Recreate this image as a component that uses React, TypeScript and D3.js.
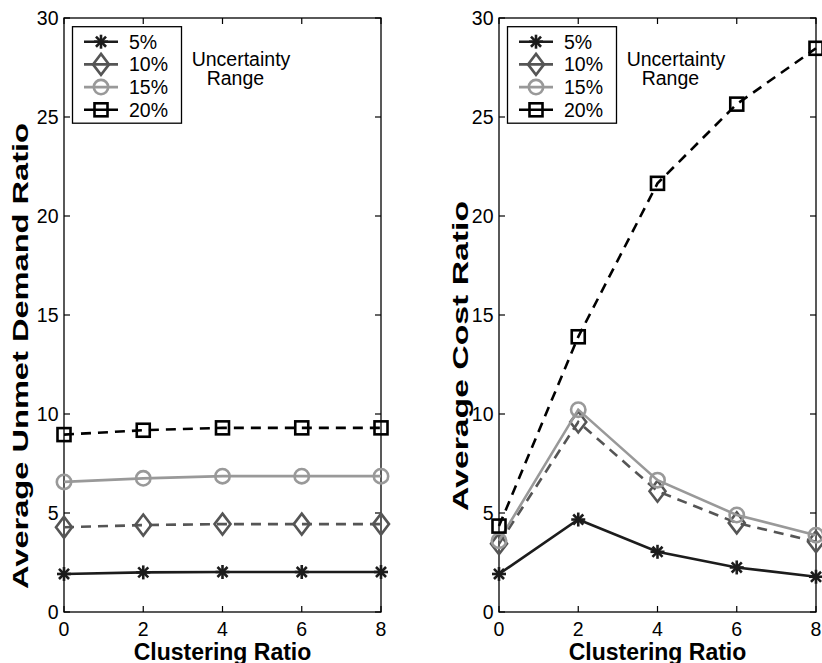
import React from 'react';
import * as d3 from 'd3';

// x values shared by every series
const clustering = [0, 2, 4, 6, 8];
const seriesLabels = ['5%', '10%', '15%', '20%'];

// left panel: average unmet demand ratio
const unmet5 = [1.92, 2.0, 2.02, 2.02, 2.02];
const unmet10 = [4.28, 4.39, 4.44, 4.44, 4.44];
const unmet15 = [6.57, 6.75, 6.86, 6.86, 6.86];
const unmet20 = [8.96, 9.18, 9.3, 9.3, 9.3];

// right panel: average cost ratio
const cost5 = [1.92, 4.67, 3.04, 2.25, 1.78];
const cost10 = [3.45, 9.6, 6.1, 4.5, 3.55];
const cost15 = [3.6, 10.22, 6.66, 4.9, 3.88];
const cost20 = [4.34, 13.9, 21.65, 25.65, 28.47];

const xTicks = [0, 2, 4, 6, 8];
const yTicks = [0, 5, 10, 15, 20, 25, 30];

const FONT = '"Liberation Sans", Arial, Helvetica, sans-serif';

type MarkerKind = 'star' | 'diamond' | 'circle' | 'square';

const STYLES: { color: string; dash: string | undefined; marker: MarkerKind }[] = [
    { color: '#1c1c1c', dash: undefined, marker: 'star' },
    { color: '#555555', dash: '10,7', marker: 'diamond' },
    { color: '#999999', dash: undefined, marker: 'circle' },
    { color: '#000000', dash: '10,7', marker: 'square' },
];

const Marker: React.FC<{ kind: MarkerKind; x: number; y: number; color: string }> = ({ kind, x, y, color }) => {
    const sw = 2.6;
    if (kind === 'star') {
        const r = 7;
        const d = r * 0.72;
        return (
            <g stroke={color} strokeWidth={sw} fill="none">
                <line x1={x - r} y1={y} x2={x + r} y2={y} />
                <line x1={x} y1={y - r} x2={x} y2={y + r} />
                <line x1={x - d} y1={y - d} x2={x + d} y2={y + d} />
                <line x1={x - d} y1={y + d} x2={x + d} y2={y - d} />
            </g>
        );
    }
    if (kind === 'diamond') {
        const hw = 8, hh = 10.5;
        return <path d={`M${x},${y - hh}L${x + hw},${y}L${x},${y + hh}L${x - hw},${y}Z`} stroke={color} strokeWidth={sw} fill="none" />;
    }
    if (kind === 'circle') {
        return <circle cx={x} cy={y} r={7.2} stroke={color} strokeWidth={sw} fill="none" />;
    }
    return <rect x={x - 6.5} y={y - 6.5} width={13} height={13} stroke={color} strokeWidth={sw} fill="none" />;
};

interface PanelProps {
    left: number;
    right: number;
    series: number[][];
    yLabel: string;
    yLabelX: number;
    yLabelLength: number;
}

const top = 18;
const bottom = 612;

const Panel: React.FC<PanelProps> = ({ left, right, series, yLabel, yLabelX, yLabelLength }) => {
    const x = d3.scaleLinear().domain([0, 8]).range([left, right]);
    const y = d3.scaleLinear().domain([0, 30]).range([bottom, top]);
    const line = d3.line<number>().x((_, i) => x(clustering[i])).y(d => y(d));
    const tickLen = 6;
    const legX = left + 8.5;
    const legY = 26.7;
    const rowY = (i: number) => legY + 15 + i * 22.7;

    return (
        <g fontFamily={FONT}>
            {/* axes box */}
            <rect x={left} y={top} width={right - left} height={bottom - top} fill="none" stroke="#000" strokeWidth={1.3} />
            {xTicks.map(t => (
                <g key={'x' + t}>
                    <line x1={x(t)} x2={x(t)} y1={bottom} y2={bottom - tickLen} stroke="#000" strokeWidth={1.2} />
                    <line x1={x(t)} x2={x(t)} y1={top} y2={top + tickLen} stroke="#000" strokeWidth={1.2} />
                    <text x={x(t)} y={636} textAnchor="middle" fontSize={19.5}>{t}</text>
                </g>
            ))}
            {yTicks.map(t => (
                <g key={'y' + t}>
                    <line x1={left} x2={left + tickLen} y1={y(t)} y2={y(t)} stroke="#000" strokeWidth={1.2} />
                    <line x1={right} x2={right - tickLen} y1={y(t)} y2={y(t)} stroke="#000" strokeWidth={1.2} />
                    <text x={left - 5.5} y={y(t) + 7} textAnchor="end" fontSize={19.5}>{t}</text>
                </g>
            ))}

            {/* series */}
            {series.map((vals, si) => (
                <g key={si}>
                    <path d={line(vals) || ''} fill="none" stroke={STYLES[si].color} strokeWidth={2.6} strokeDasharray={STYLES[si].dash} />
                    {vals.map((v, i) => (
                        <Marker key={i} kind={STYLES[si].marker} x={x(clustering[i])} y={y(v)} color={STYLES[si].color} />
                    ))}
                </g>
            ))}

            {/* legend */}
            <rect x={legX} y={legY} width={109} height={96.5} fill="#fff" stroke="#000" strokeWidth={1.3} />
            {seriesLabels.map((lab, i) => (
                <g key={lab}>
                    <line x1={legX + 11.5} x2={legX + 45.5} y1={rowY(i)} y2={rowY(i)} stroke={STYLES[i].color} strokeWidth={2.6} />
                    <Marker kind={STYLES[i].marker} x={legX + 28.5} y={rowY(i)} color={STYLES[i].color} />
                    <text x={legX + 56.5} y={rowY(i) + 7} fontSize={19.5}>{lab}</text>
                </g>
            ))}
            <text x={left + 127.7} y={66} fontSize={19.5}>Uncertainty</text>
            <text x={left + 142.7} y={85} fontSize={19.5}>Range</text>

            {/* axis labels */}
            <text x={(left + right) / 2} y={660} textAnchor="middle" fontSize={23} fontWeight="bold">Clustering Ratio</text>
            <text
                transform={`translate(${yLabelX}, 356) rotate(-90)`}
                textAnchor="middle"
                fontSize={22}
                fontWeight="bold"
                textLength={yLabelLength}
                lengthAdjust="spacingAndGlyphs"
            >
                {yLabel}
            </text>
        </g>
    );
};

const App: React.FC = () => {
    return (
        <svg width={822} height={663} style={{ position: 'absolute', left: 0, top: 0, background: '#fff' }}>
            <Panel
                left={64}
                right={381}
                series={[unmet5, unmet10, unmet15, unmet20]}
                yLabel="Average Unmet Demand Ratio"
                yLabelX={28}
                yLabelLength={466}
            />
            <Panel
                left={499}
                right={816}
                series={[cost5, cost10, cost15, cost20]}
                yLabel="Average Cost Ratio"
                yLabelX={468}
                yLabelLength={310}
            />
        </svg>
    );
};

export default App;
